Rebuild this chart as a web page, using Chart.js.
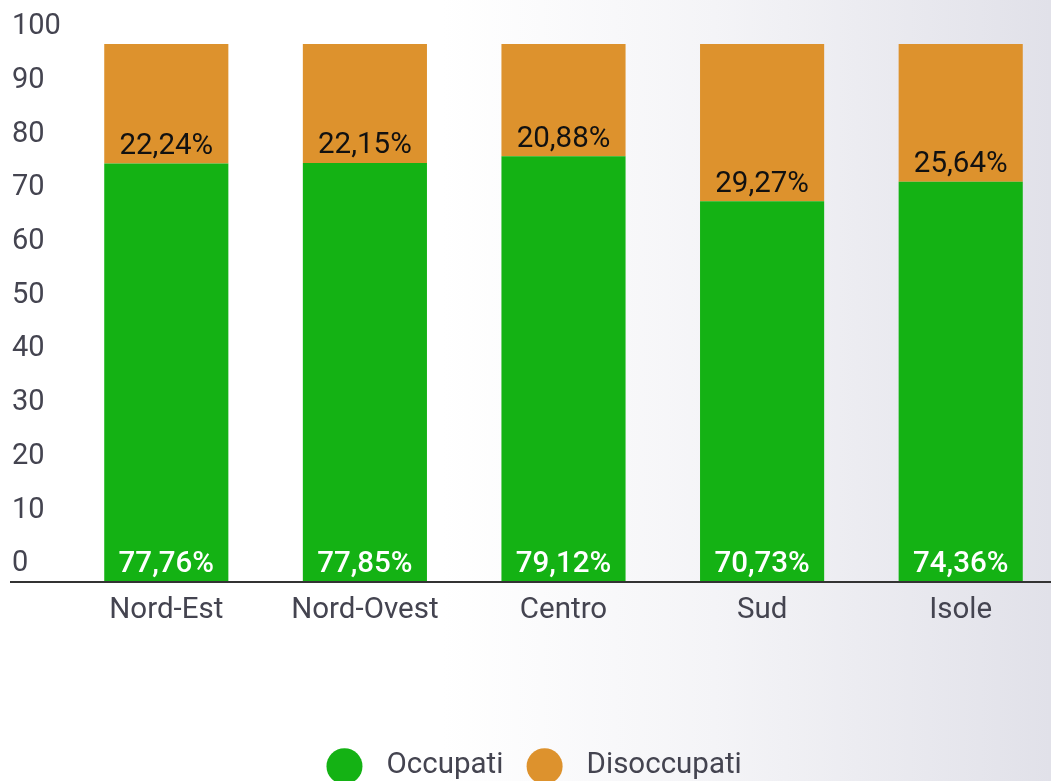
<!DOCTYPE html>
<html>
<head>
<meta charset="utf-8">
<script src="https://cdn.jsdelivr.net/npm/chart.js@4.4.0/dist/chart.umd.min.js"></script>
<style>
  html, body { margin: 0; padding: 0; width: 1051px; height: 781px; overflow: hidden; }
  body { background: linear-gradient(90deg, #ffffff 0%, #ffffff 42%, #f4f4f7 68%, #e1e1e9 100%); }
  #wrap { position: absolute; left: 0; top: 0; width: 1060px; height: 790px; }
</style>
</head>
<body>
<div id="wrap"><canvas id="c" width="1060" height="790"></canvas></div>
<script>
const categories = ["Nord-Est", "Nord-Ovest", "Centro", "Sud", "Isole"];
const occupati = [77.76, 77.85, 79.12, 70.73, 74.36];
const disoccupati = [22.24, 22.15, 20.88, 29.27, 25.64];
const seriesNames = ["Occupati", "Disoccupati"];
const seriesColors = ["#14b214", "#dd922d"];
const yTicks = [0, 10, 20, 30, 40, 50, 60, 70, 80, 90, 100];

const FONT = "Roboto, 'Noto Sans', sans-serif";
const TXT = "#444450";
const FS = 29.5;
const BOXW = -13.5;

function fmt(v) { return v.toFixed(2).replace('.', ',') + '%'; }

const labelPlugin = {
  id: 'valueLabels',
  afterDatasetsDraw(chart) {
    const ctx = chart.ctx;
    ctx.save();
    ctx.textAlign = 'center';
    ctx.textBaseline = 'middle';
    const m0 = chart.getDatasetMeta(0);
    m0.data.forEach((bar, i) => {
      ctx.font = "500 " + FS + "px " + FONT;
      ctx.fillStyle = "#ffffff";
      ctx.fillText(fmt(occupati[i]), bar.x, bar.base - 16);
    });
    const m1 = chart.getDatasetMeta(1);
    m1.data.forEach((bar, i) => {
      ctx.font = "400 " + FS + "px " + FONT;
      ctx.fillStyle = "#111111";
      ctx.fillText(fmt(disoccupati[i]), bar.x, bar.base - 17);
    });
    ctx.restore();
  }
};

const axisLinePlugin = {
  id: 'axisLine',
  afterDraw(chart) {
    const ctx = chart.ctx;
    const y = chart.scales.y.getPixelForValue(0);
    ctx.save();
    ctx.strokeStyle = "#333333";
    ctx.lineWidth = 2;
    ctx.beginPath();
    ctx.moveTo(10, y + 1);
    ctx.lineTo(chart.width, y + 1);
    ctx.stroke();
    ctx.restore();
  }
};

// legend markers: round dots placed from the legend's own item boxes
const legendDotsPlugin = {
  id: 'legendDots',
  afterDraw(chart) {
    const lg = chart.legend;
    if (!lg || !lg.legendHitBoxes) return;
    const ctx = chart.ctx;
    ctx.save();
    lg.legendItems.forEach((it, i) => {
      const hb = lg.legendHitBoxes[i];
      const textX = hb.left + BOXW + FS / 2;
      ctx.fillStyle = it.fillStyle;
      ctx.beginPath();
      ctx.arc(textX - 42, hb.top + hb.height / 2 + 1, 18, 0, Math.PI * 2);
      ctx.fill();
    });
    ctx.restore();
  }
};

new Chart(document.getElementById('c'), {
  type: 'bar',
  data: {
    labels: categories,
    datasets: [
      { label: seriesNames[0], data: occupati, backgroundColor: seriesColors[0], borderWidth: 0 },
      { label: seriesNames[1], data: disoccupati, backgroundColor: seriesColors[1], borderWidth: 0 }
    ]
  },
  options: {
    responsive: false,
    animation: false,
    devicePixelRatio: 1,
    layout: { padding: { left: 12, right: 0, top: 44, bottom: 0 } },
    datasets: { bar: { categoryPercentage: 1, barPercentage: 0.625 } },
    scales: {
      x: {
        stacked: true,
        grid: { display: false, drawTicks: false },
        border: { display: false },
        ticks: { color: TXT, font: { family: FONT, size: FS }, padding: 12 },
        afterFit(s) { s.height = 87.5; }
      },
      y: {
        stacked: true,
        min: 0, max: 100,
        afterBuildTicks(s) { s.ticks = yTicks.map(v => ({ value: v })); },
        grid: { display: false, drawTicks: false },
        border: { display: false },
        ticks: {
          color: TXT,
          font: { family: FONT, size: 29 },
          crossAlign: 'far',
          labelOffset: -17,
          padding: 0,
          callback: (v) => String(v)
        },
        afterFit(s) { s.width = 55; }
      }
    },
    plugins: {
      tooltip: { enabled: false },
      legend: {
        position: 'bottom',
        fullSize: false,
        labels: {
          usePointStyle: true,
          boxWidth: BOXW,
          boxHeight: 26,
          padding: 82,
          color: TXT,
          font: { family: FONT, size: FS }
        }
      }
    }
  },
  plugins: [labelPlugin, axisLinePlugin, legendDotsPlugin]
});
</script>
</body>
</html>
